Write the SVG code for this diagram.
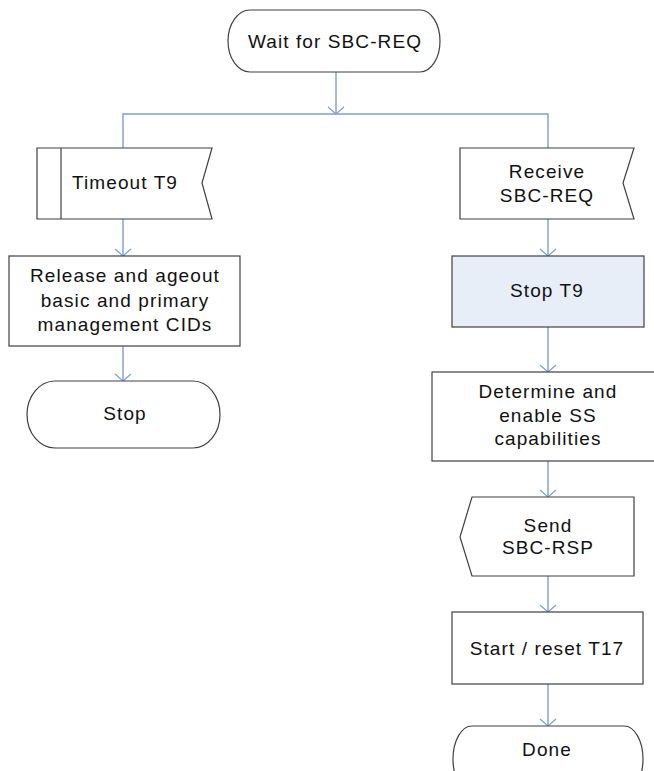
<svg xmlns="http://www.w3.org/2000/svg" width="654" height="771" viewBox="0 0 654 771">
<defs>
<marker id="arr" markerUnits="userSpaceOnUse" markerWidth="20" markerHeight="20" viewBox="-10 -10 20 20" refX="0" refY="0" orient="auto">
<path d="M-7,-8 L0,0 L-7,8" fill="none" stroke="#7B9FD6" stroke-width="1.2"/>
</marker>
</defs>
<style>
.shape{fill:#ffffff;stroke:#404040;stroke-width:1.2}
.hl{fill:#E8EEF8}
.conn{fill:none;stroke:#7B9FD6;stroke-width:1.4}
text{font-family:"Liberation Sans",Arial,sans-serif;font-size:19px;fill:#111;text-anchor:middle;letter-spacing:1.1px}
</style>
<rect width="654" height="771" fill="#ffffff"/>
<g id="connectors">
<line class="conn" x1="336" y1="72" x2="336" y2="114" marker-end="url(#arr)"/>
<polyline class="conn" points="123,148 123,114 548,114 548,148"/>
<line class="conn" x1="123" y1="219" x2="123" y2="256" marker-end="url(#arr)"/>
<line class="conn" x1="123" y1="346" x2="123" y2="381" marker-end="url(#arr)"/>
<line class="conn" x1="548" y1="219" x2="548" y2="256" marker-end="url(#arr)"/>
<line class="conn" x1="548" y1="327" x2="548" y2="372" marker-end="url(#arr)"/>
<line class="conn" x1="548" y1="461" x2="548" y2="497" marker-end="url(#arr)"/>
<line class="conn" x1="548" y1="576" x2="548" y2="612" marker-end="url(#arr)"/>
<line class="conn" x1="548" y1="684" x2="548" y2="726" marker-end="url(#arr)"/>
</g>
<g id="wait">
<path class="shape" d="M250,10 L420,10 A20,31 0 0 1 420,72 L250,72 A22,31 0 0 1 250,10 Z"/>
<text x="335" y="48">Wait for SBC-REQ</text>
</g>
<g id="timeout">
<polygon class="shape" points="37,148 212,148 202,183 212,219 37,219"/>
<line x1="61" y1="148" x2="61" y2="219" stroke="#404040" stroke-width="1.2"/>
<text x="125" y="189">Timeout T9</text>
</g>
<g id="receive">
<polygon class="shape" points="460,148 634,148 623,183 634,219 460,219"/>
<text x="547" y="178">Receive</text>
<text x="547" y="202">SBC-REQ</text>
</g>
<g id="release">
<rect class="shape" x="9" y="256" width="231" height="90"/>
<text x="125" y="282">Release and ageout</text>
<text x="125" y="307">basic and primary</text>
<text x="125" y="331">management CIDs</text>
</g>
<g id="stop">
<path class="shape" d="M55,381 L193,381 A27,33.5 0 0 1 193,448 L55,448 A28,33.5 0 0 1 55,381 Z"/>
<text x="125" y="420">Stop</text>
</g>
<g id="stopT9">
<rect class="shape hl" x="452" y="256" width="192" height="71"/>
<text x="547" y="297">Stop T9</text>
</g>
<g id="determine">
<rect class="shape" x="432" y="372" width="232" height="89"/>
<text x="548" y="398">Determine and</text>
<text x="548" y="422">enable SS</text>
<text x="548" y="445">capabilities</text>
</g>
<g id="send">
<polygon class="shape" points="472,497 634,497 634,576 472,576 460,537"/>
<text x="548" y="532">Send</text>
<text x="548" y="554">SBC-RSP</text>
</g>
<g id="start">
<rect class="shape" x="452" y="612" width="191" height="72"/>
<text x="547" y="655">Start / reset T17</text>
</g>
<g id="done">
<path class="shape" d="M472,726 L624,726 A19,33 0 0 1 624,792 L472,792 A19,33 0 0 1 472,726 Z"/>
<text x="547" y="756">Done</text>
</g>
</svg>
